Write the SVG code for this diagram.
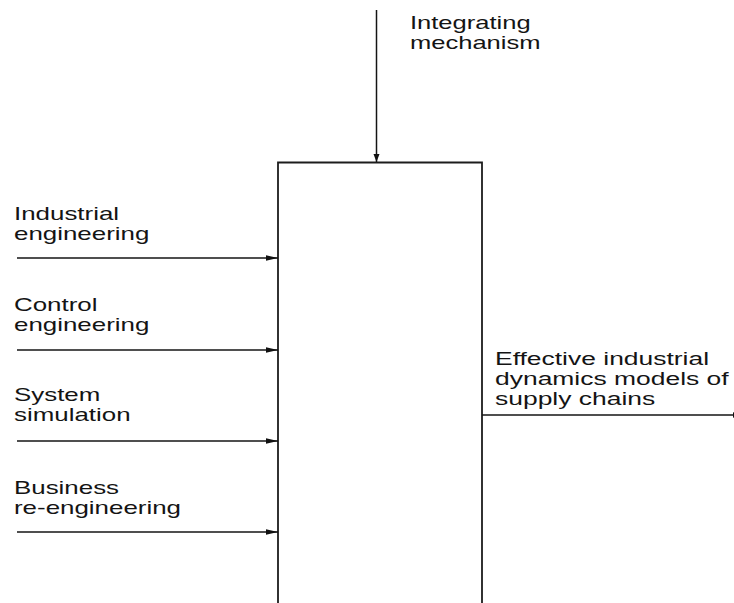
<svg xmlns="http://www.w3.org/2000/svg" width="734" height="603" viewBox="0 0 734 603">
<style>
.t{font-family:"Liberation Sans",Arial,sans-serif;font-size:18.5px;fill:#141414}
.c{stroke:#141414;stroke-width:1.5;fill:none}
.b{stroke:#1c1c1c;stroke-width:1.8;fill:#fff}
</style>
<defs>
<marker id="ah" viewBox="0 0 12 6" refX="12" refY="3" markerWidth="12" markerHeight="6" markerUnits="userSpaceOnUse" orient="auto">
<path d="M0,0.3 L12,3 L0,5.7 z" fill="#111"/>
</marker>
<marker id="av" viewBox="0 0 8 6" refX="8" refY="3" markerWidth="8" markerHeight="6.5" markerUnits="userSpaceOnUse" orient="auto">
<path d="M0,0 L8,3 L0,6 z" fill="#111"/>
</marker>
</defs>
<rect width="734" height="603" fill="#fff"/>
<g id="process">
<path class="b" d="M278,620 V162.5 H482 V620"/>
</g>
<g id="connectors">
<line class="c" x1="376.5" y1="10" x2="376.5" y2="162" marker-end="url(#av)"/>
<line class="c" x1="17" y1="258" x2="278" y2="258" marker-end="url(#ah)"/>
<line class="c" x1="17" y1="350" x2="278" y2="350" marker-end="url(#ah)"/>
<line class="c" x1="17" y1="441" x2="278" y2="441" marker-end="url(#ah)"/>
<line class="c" x1="17" y1="532" x2="278" y2="532" marker-end="url(#ah)"/>
<line class="c" x1="482" y1="415" x2="745" y2="415" marker-end="url(#ah)"/>
</g>
<g id="label-integrating">
<text class="t" transform="translate(410,29) scale(1.38,1)">Integrating</text>
<text class="t" transform="translate(410,49) scale(1.38,1)">mechanism</text>
</g>
<g id="label-industrial">
<text class="t" transform="translate(14,220) scale(1.40,1)">Industrial</text>
<text class="t" transform="translate(14,240) scale(1.40,1)">engineering</text>
</g>
<g id="label-control">
<text class="t" transform="translate(14,311) scale(1.40,1)">Control</text>
<text class="t" transform="translate(14,331) scale(1.40,1)">engineering</text>
</g>
<g id="label-system">
<text class="t" transform="translate(14,401) scale(1.40,1)">System</text>
<text class="t" transform="translate(14,421) scale(1.40,1)">simulation</text>
</g>
<g id="label-business">
<text class="t" transform="translate(14,494) scale(1.40,1)">Business</text>
<text class="t" transform="translate(14,514) scale(1.40,1)">re-engineering</text>
</g>
<g id="label-output">
<text class="t" transform="translate(495,365) scale(1.43,1)">Effective industrial</text>
<text class="t" transform="translate(495,385) scale(1.43,1)">dynamics models of</text>
<text class="t" transform="translate(495,405) scale(1.43,1)">supply chains</text>
</g>
</svg>
